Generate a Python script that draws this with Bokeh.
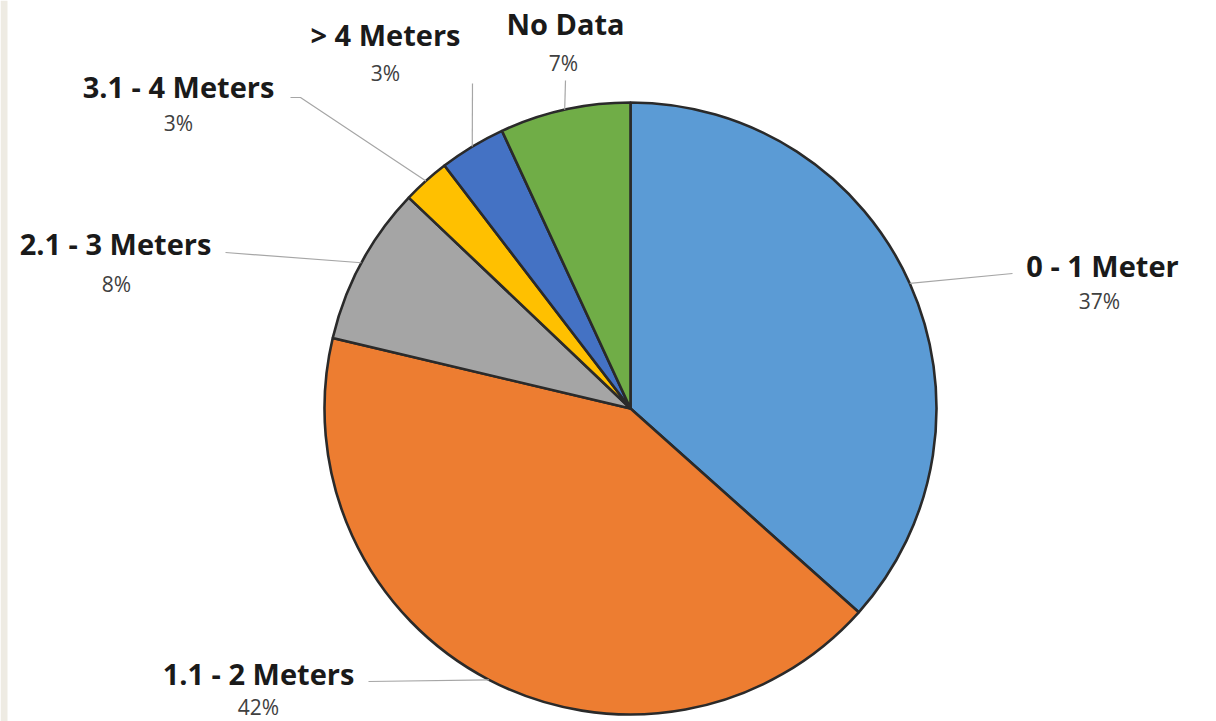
import math
from bokeh.plotting import figure
from bokeh.models import ColumnDataSource, Range1d, BoxAnnotation
from bokeh.core.properties import value
from bokeh.embed import file_html
from bokeh.resources import INLINE

# ---- data ----
categories = ["0 - 1 Meter", "1.1 - 2 Meters", "2.1 - 3 Meters", "3.1 - 4 Meters", "> 4 Meters", "No Data"]
shares = [36.6, 42.1, 8.4, 2.5, 3.5, 6.9]
pct_labels = ["37%", "42%", "8%", "3%", "3%", "7%"]
colors = ["#5B9BD5", "#ED7D31", "#A5A5A5", "#FFC000", "#4472C4", "#70AD47"]

# ---- layout (pixel coords, y down) ----
W, H = 1216, 721
CX, CY, R = 630, 408, 306
leader_ends = [[(1012, 273)], [(368, 681)], [(225, 252)], [(300, 97), (290, 97)], [(472, 83)], [(565, 80)]]
name_pos = [(1102, 265), (258, 673), (115, 243), (178, 86), (385, 34), (565, 23)]
pct_pos = [(1099, 300), (258, 706), (116, 283), (178, 122), (385, 72), (563, 62)]


def fy(y):
    return H - y


p = figure(width=W, height=H, output_backend="svg", toolbar_location=None,
           x_range=Range1d(0, W), y_range=Range1d(0, H), min_border=0)
p.axis.visible = False
p.grid.visible = False
p.outline_line_color = None
p.background_fill_color = "white"
p.border_fill_color = "white"

p.add_layout(BoxAnnotation(left=0, right=7, fill_color="#EEEBE3", fill_alpha=1, line_color=None))

total = sum(shares)
starts, ends, mids = [], [], []
cum = 0.0
for s in shares:
    a0 = cum / total
    cum += s
    a1 = cum / total
    starts.append(math.pi / 2 - 2 * math.pi * a0)
    ends.append(math.pi / 2 - 2 * math.pi * a1)
    mids.append((a0 + a1) / 2)

src = ColumnDataSource(dict(start=starts, end=ends, color=colors, cat=categories))
p.wedge(x=CX, y=fy(CY), radius=R, start_angle="start", end_angle="end", direction="clock",
        fill_color="color", line_color="#2A2A2A", line_width=2.6, source=src)

for i, m in enumerate(mids):
    ang = 2 * math.pi * m
    ex = CX + R * math.sin(ang)
    ey = CY - R * math.cos(ang)
    pts = [(ex, ey)] + leader_ends[i]
    p.line([q[0] for q in pts], [fy(q[1]) for q in pts], line_color="#A6A6A6", line_width=1.2)

p.text(x=[q[0] for q in name_pos], y=[fy(q[1]) for q in name_pos], text=categories,
       text_font=value("Open Sans"), text_font_style="bold", text_font_size="29px",
       text_color="#1A1A1A", text_align="center", text_baseline="middle")
p.text(x=[q[0] for q in pct_pos], y=[fy(q[1]) for q in pct_pos], text=pct_labels,
       text_font=value("Open Sans"), text_font_size="21px",
       text_color="#404040", text_align="center", text_baseline="middle")

open("out.html", "w").write(file_html(p, INLINE))
